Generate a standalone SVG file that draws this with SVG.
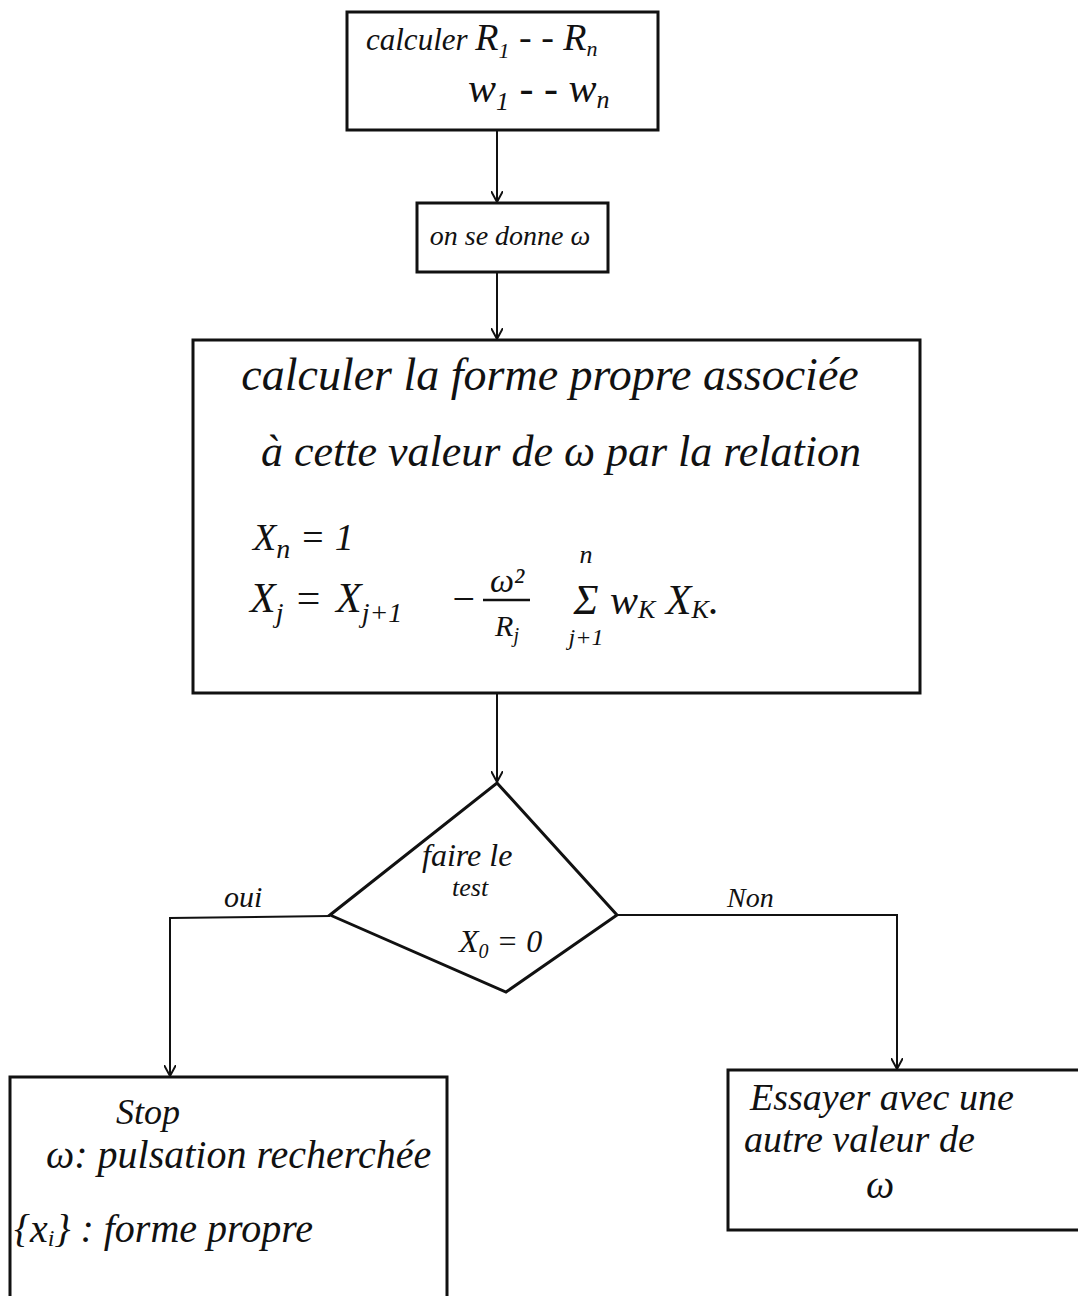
<svg xmlns="http://www.w3.org/2000/svg" width="1078" height="1296" viewBox="0 0 1078 1296">
  <style>
    .box { fill: none; stroke: #111; stroke-width: 3; }
    .edge { fill: none; stroke: #111; stroke-width: 2; }
    .t { font-family: "Liberation Serif", "DejaVu Serif", serif; font-style: italic; fill: #111; }
  </style>
  <defs>
    <marker id="arr" viewBox="0 0 12 12" refX="11" refY="6" markerWidth="12" markerHeight="12" markerUnits="userSpaceOnUse" orient="auto">
      <path d="M0,0 L11,6 L0,12" fill="none" stroke="#111" stroke-width="2"/>
    </marker>
  </defs>
  <rect width="1078" height="1296" fill="#fff"/>

  <g id="connectors">
    <line class="edge" x1="497" y1="130" x2="497" y2="202" marker-end="url(#arr)"/>
    <line class="edge" x1="497" y1="272" x2="497" y2="339" marker-end="url(#arr)"/>
    <line class="edge" x1="497" y1="693" x2="497" y2="782" marker-end="url(#arr)"/>
    <polyline class="edge" points="330,916 170,918 170,1076" marker-end="url(#arr)"/>
    <polyline class="edge" points="617,915 897,915 897,1069" marker-end="url(#arr)"/>
    <text class="t" x="224" y="907" font-size="30">oui</text>
    <text class="t" x="727" y="907" font-size="28">Non</text>
  </g>

  <g id="n1">
    <rect class="box" x="347" y="12" width="311" height="118"/>
    <text class="t" x="366" y="50" font-size="31">calculer <tspan font-size="38">R</tspan><tspan font-size="22" dy="8">1</tspan><tspan font-size="38" dy="-8"> - -  R</tspan><tspan font-size="22" dy="6">n</tspan></text>
    <text class="t" x="468" y="102" font-size="42">w<tspan font-size="26" dy="8">1</tspan><tspan dy="-8"> - -  w</tspan><tspan font-size="26" dy="6">n</tspan></text>
  </g>

  <g id="n2">
    <rect class="box" x="417" y="203" width="191" height="69"/>
    <text class="t" x="510" y="245" font-size="28" text-anchor="middle">on se donne ω</text>
  </g>

  <g id="n3">
    <rect class="box" x="193" y="340" width="727" height="353"/>
    <text class="t" x="550" y="390" font-size="46" text-anchor="middle">calculer la forme propre associée</text>
    <text class="t" x="561" y="466" font-size="44" text-anchor="middle">à cette valeur de ω par la relation</text>
    <text class="t" x="253" y="550" font-size="38">X<tspan font-size="28" dy="8">n</tspan><tspan dy="-8"> = 1</tspan></text>
    <text class="t" x="250" y="612" font-size="42">X<tspan font-size="28" dy="10">j</tspan><tspan dy="-10"> =</tspan></text>
    <text class="t" x="336" y="612" font-size="42">X<tspan font-size="28" dy="10">j+1</tspan></text>
    <text class="t" x="450" y="612" font-size="40">−</text>
    <text class="t" x="507" y="592" font-size="34" text-anchor="middle">ω²</text>
    <line x1="483" y1="600" x2="530" y2="600" stroke="#111" stroke-width="2.5"/>
    <text class="t" x="507" y="636" font-size="30" text-anchor="middle">R<tspan font-size="20" dy="6">j</tspan></text>
    <text class="t" x="586" y="563" font-size="26" text-anchor="middle">n</text>
    <text class="t" x="586" y="614" font-size="42" text-anchor="middle">Σ</text>
    <text class="t" x="586" y="645" font-size="24" text-anchor="middle">j+1</text>
    <text class="t" x="610" y="614" font-size="42">w<tspan font-size="26" dy="4">K</tspan><tspan dy="-4"> X</tspan><tspan font-size="26" dy="4">K</tspan><tspan dy="-4">.</tspan></text>
  </g>

  <g id="n4">
    <polygon class="box" points="497,783 617,915 506,992 330,915"/>
    <text class="t" x="422" y="866" font-size="32">faire le</text>
    <text class="t" x="452" y="896" font-size="26">test</text>
    <text class="t" x="459" y="952" font-size="32">X<tspan font-size="20" dy="6">0</tspan><tspan dy="-6"> = 0</tspan></text>
  </g>

  <g id="n5">
    <rect class="box" x="10" y="1077" width="437" height="230"/>
    <text class="t" x="116" y="1124" font-size="36">Stop</text>
    <text class="t" x="46" y="1168" font-size="40">ω: pulsation recherchée</text>
    <text class="t" x="14" y="1242" font-size="40">{x<tspan font-size="24" dy="4">i</tspan><tspan dy="-4">} :  forme propre</tspan></text>
  </g>

  <g id="n6">
    <rect class="box" x="728" y="1070" width="360" height="160"/>
    <text class="t" x="750" y="1110" font-size="38">Essayer avec une</text>
    <text class="t" x="744" y="1152" font-size="38">autre valeur de</text>
    <text class="t" x="866" y="1198" font-size="40">ω</text>
  </g>
</svg>
